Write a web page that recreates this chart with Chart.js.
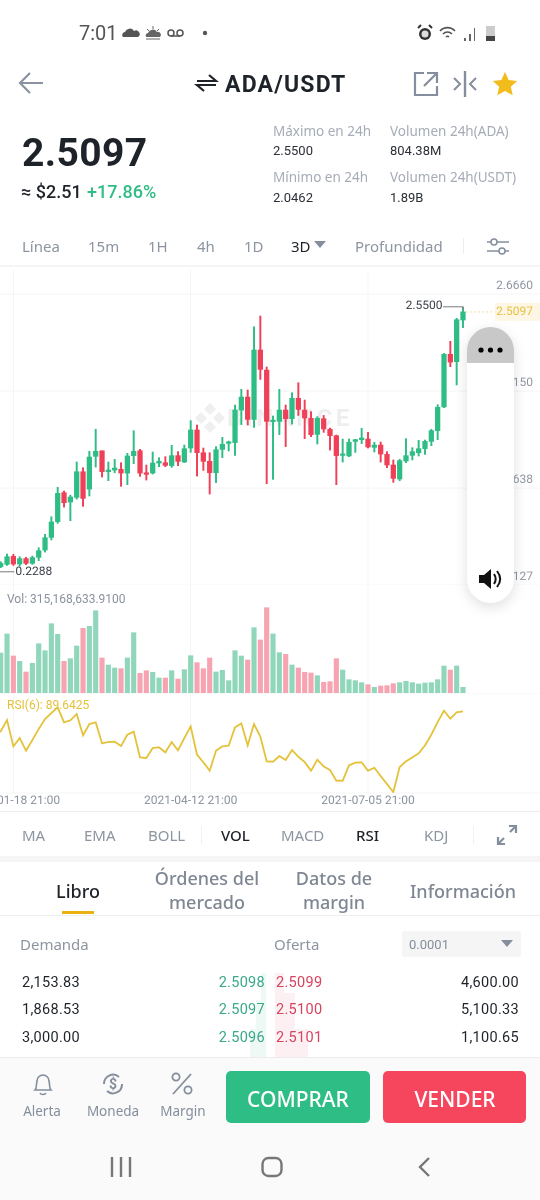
<!DOCTYPE html>
<html lang="es"><head><meta charset="utf-8">
<script src="https://cdn.jsdelivr.net/npm/chart.js@4"></script>
<style>
html,body{margin:0;padding:0;background:#fff;width:540px;height:1200px;overflow:hidden}
body{position:relative;font-family:"Noto Sans",Roboto,sans-serif;color:#848e9c}
.t{position:absolute;white-space:nowrap;transform:translateY(-50%);line-height:1}
.c{transform:translate(-50%,-50%)}
.r{transform:translate(-100%,-50%)}
.box{position:absolute}
svg{position:absolute;overflow:visible}
canvas{position:absolute;left:0;z-index:2}
canvas,.t,svg{filter:blur(.3px)}
.n{font-family:Roboto,sans-serif}
.tab{font-size:15px;color:#8d95a1}
.stat{font-size:13.5px;color:#a6acb6}
.val{font-size:13px;color:#2b2f36;font-family:Roboto,sans-serif}
.mt{font-size:18px;font-weight:500;color:#7f8793;text-align:center;line-height:24px}
.row{font-size:14.5px;font-family:Roboto,sans-serif;letter-spacing:.3px}
</style></head><body>
<script>
// index 0 is the candle just left of the visible window (it holds the 0.2288 low)
const dateTicks = ["2021-01-18 21:00","2021-04-12 21:00","2021-07-05 21:00"];
const dateTickIndex = [3,31,59];
const priceTicks = [2.6660,1.8150,0.9638,0.1127];
const lastPrice = 2.5097;
const highs = [.300,.318,.385,.382,.361,.356,.367,.440,.557,.712,.970,.938,.902,1.192,1.142,1.286,1.479,1.291,1.192,1.215,
1.186,1.268,1.467,1.303,1.166,1.280,1.230,1.239,1.338,1.283,1.341,1.555,1.517,1.315,1.274,1.327,1.408,1.376,1.692,1.830,
1.824,2.379,2.473,2.026,1.596,1.830,1.692,1.800,1.888,1.736,1.634,1.590,1.601,1.490,1.429,1.394,1.394,1.391,1.487,1.452,
1.365,1.368,1.283,1.210,1.215,1.397,1.318,1.382,1.385,1.479,1.695,2.145,2.251,2.453,2.5500];
const lows = [.2288,.265,.285,.285,.279,.291,.294,.326,.402,.508,.654,.797,.677,.867,.803,.894,1.148,1.060,1.028,1.098,
.979,.993,1.177,1.066,1.034,1.087,1.151,1.151,1.145,1.160,1.186,1.277,1.069,1.119,.911,1.011,1.230,1.289,1.250,1.520,
1.517,1.496,1.917,1.002,1.040,1.432,1.327,1.525,1.601,1.397,1.414,1.350,1.452,1.297,.993,1.192,1.239,1.277,1.353,1.315,
1.280,1.192,1.142,1.014,1.028,1.186,1.210,1.245,1.259,1.335,1.388,1.669,2.028,1.868,2.371];
const opens = [.285,.274,.294,.364,.297,.344,.303,.356,.420,.531,.668,.923,.841,.882,1.107,.955,1.242,1.291,1.107,1.122,
1.128,1.095,1.248,1.291,1.098,1.095,1.183,1.186,1.160,1.248,1.192,1.315,1.473,1.274,1.198,1.098,1.303,1.356,1.362,1.648,
1.762,1.566,2.175,1.999,1.546,1.549,1.648,1.572,1.751,1.648,1.575,1.435,1.572,1.479,1.423,1.250,1.245,1.373,1.388,1.394,
1.321,1.341,1.259,1.166,1.043,1.201,1.251,1.274,1.309,1.373,1.467,1.675,2.137,2.072,2.438];
const closes = [.270,.303,.361,.297,.344,.303,.353,.414,.528,.666,.917,.835,.885,1.107,.873,1.236,1.286,1.107,1.122,1.139,
1.095,1.245,1.286,1.095,1.084,1.183,1.198,1.163,1.248,1.198,1.309,1.473,1.274,1.198,1.098,1.300,1.347,1.367,1.648,1.762,
1.566,2.175,2.005,1.549,1.558,1.648,1.572,1.751,1.654,1.578,1.432,1.575,1.482,1.423,1.248,1.262,1.365,1.388,1.403,1.324,
1.341,1.262,1.166,1.049,1.204,1.248,1.283,1.309,1.373,1.467,1.672,2.137,2.069,2.441,2.5097];
// volume, millions of ADA
const volumes = [1900,2225,3282,2058,1761,1168,1650,2744,2355,3856,3263,1761,1910,2614,3597,3708,4579,1947,1557,1391,
1353,1947,3356,1094,1242,1149,834,834,1242,779,1298,2076,1687,1353,1947,1168,1261,686,2355,2058,
1835,3634,2948,4746,3282,2243,2151,1557,1391,1149,1112,964,593,630,1910,1279,742,686,575,464,
315,389,408,519,575,649,575,501,556,575,742,1502,1279,1502,315.17];
const rsi = [76.50,78.41,84.79,69.97,74.66,67.53,73.53,79.72,85.35,88.73,91.91,83.47,84.60,88.16,76.16,82.53,83.47,71.66,72.41,72.60,
70.16,76.53,78.22,63.78,63.41,69.03,69.41,66.59,72.41,67.72,74.66,81.22,65.28,60.97,56.27,67.53,69.97,70.34,80.66,82.91,
70.53,82.53,75.41,61.53,61.34,64.53,62.28,67.91,64.15,61.15,56.27,62.47,58.72,56.65,50.65,50.65,59.28,60.78,60.97,56.27,
57.96,53.27,48.77,44.27,58.34,61.53,63.78,66.03,70.53,76.53,83.66,90.04,85.54,89.10,89.6425];
</script>

<!-- status bar -->
<span class="t n" style="left:79px;top:33px;font-size:20px;color:#555">7:01</span>
<svg style="left:122px;top:26px" width="80" height="14" viewBox="0 0 80 14"><path d="M1 11a3 3 0 0 1 2-5 5 5 0 0 1 9-1 3.5 3.5 0 0 1 4 6z" fill="#555"/><path d="M24 11a3 3 0 0 1 2-4 5 5 0 0 1 9-1 3 3 0 0 1 3 5z" fill="#666"/><path d="M25 3l2 2M31 0v3M37 3l-2 2M24 13h14" stroke="#666" fill="none"/><g fill="none" stroke="#555" stroke-width="1.5"><circle cx="49" cy="7" r="3"/><circle cx="58" cy="7" r="3"/><path d="M49 10h9"/></g><circle cx="83" cy="7" r="2.2" fill="#555"/></svg>
<svg style="left:417px;top:24px" width="80" height="18" viewBox="0 0 80 18"><circle cx="8" cy="10" r="6" fill="#333"/><circle cx="8" cy="10" r="3.5" fill="#ddd"/><path d="M1 4l3-3M15 4l-3-3" stroke="#333" stroke-width="2"/><path d="M23 7a10 10 0 0 1 15 0M26 10a6 6 0 0 1 9 0M29 13a2 2 0 0 1 3 0" fill="none" stroke="#555" stroke-width="1.6"/><path d="M47 17v-3h2v3zM52 17v-7h2v7zM57 17V4h1v13z" fill="#666"/><rect x="69" y="2" width="9" height="15" fill="#ccc"/><rect x="69" y="12" width="9" height="5" fill="#444"/></svg>

<!-- header -->
<svg style="left:18px;top:72px" width="26" height="22" viewBox="0 0 26 22"><path d="M25 11H2M12 1L2 11l10 10" fill="none" stroke="#8b93a0" stroke-width="2.2"/></svg>
<svg style="left:196px;top:74px" width="21" height="18" viewBox="0 0 21 18"><path d="M1 7h19L13 1M20 11H1l7 6" fill="none" stroke="#1e2329" stroke-width="2.2"/></svg>
<span class="t" style="left:225px;top:84px;font-size:23px;font-weight:700;color:#1e2329;font-family:Roboto,sans-serif;letter-spacing:1.2px">ADA/USDT</span>
<svg style="left:413px;top:71px" width="26" height="26" viewBox="0 0 26 26"><path d="M11 2H2v22h22v-9M14 2h10v10M24 2L11 15" fill="none" stroke="#848e9c" stroke-width="2.2"/></svg>
<svg style="left:452px;top:71px" width="26" height="26" viewBox="0 0 26 26"><path d="M13 0v26" stroke="#848e9c" stroke-width="2.4"/><path d="M2 7l6 6-6 6M24 7l-6 6 6 6" fill="none" stroke="#848e9c" stroke-width="2"/></svg>
<svg style="left:492px;top:71px" width="26" height="26" viewBox="0 0 24 24"><path d="M12 1l3.4 7.3 7.9.9-5.9 5.3 1.7 7.9L12 18.4l-7.1 4 1.7-7.9L.7 9.2l7.9-.9z" fill="#f2bc1c"/></svg>

<span class="t" style="left:22px;top:153px;font-size:39px;font-weight:700;color:#1e2329;font-family:Roboto,sans-serif;letter-spacing:.4px">2.5097</span>
<span class="t" style="left:21px;top:192px;font-size:18px;font-weight:500;color:#1e2329;font-family:Roboto,sans-serif">≈ $2.51</span>
<span class="t" style="left:87px;top:192px;font-size:18px;font-weight:500;color:#2ebd85;font-family:Roboto,sans-serif">+17.86%</span>
<span class="t stat" style="left:273px;top:132px">Máximo en 24h</span><span class="t val" style="left:273px;top:150px">2.5500</span>
<span class="t stat" style="left:390px;top:132px">Volumen 24h(ADA)</span><span class="t val" style="left:390px;top:150px">804.38M</span>
<span class="t stat" style="left:273px;top:178px">Mínimo en 24h</span><span class="t val" style="left:273px;top:197px">2.0462</span>
<span class="t stat" style="left:390px;top:178px">Volumen 24h(USDT)</span><span class="t val" style="left:390px;top:197px">1.89B</span>

<span class="t tab" style="left:22px;top:246px">Línea</span>
<span class="t tab" style="left:88px;top:246px">15m</span>
<span class="t tab" style="left:148px;top:246px">1H</span>
<span class="t tab" style="left:197px;top:246px">4h</span>
<span class="t tab" style="left:244px;top:246px">1D</span>
<span class="t tab" style="left:291px;top:246px;color:#1e2329">3D</span>
<svg style="left:314px;top:241px" width="12" height="7"><path d="M0 0h12L6 7z" fill="#848e9c"/></svg>
<span class="t tab" style="left:355px;top:246px">Profundidad</span>
<div class="box" style="left:463px;top:238px;width:1px;height:16px;background:#eee"></div>
<svg style="left:487px;top:238px" width="22" height="17" viewBox="0 0 22 17"><path d="M0 4h22M0 13h22" stroke="#848e9c" stroke-width="1.5"/><circle cx="7" cy="4" r="3" fill="#fff" stroke="#848e9c" stroke-width="1.5"/><circle cx="15" cy="13" r="3" fill="#fff" stroke="#848e9c" stroke-width="1.5"/></svg>
<div class="box" style="left:0;top:265px;width:540px;height:2px;background:#f5f5f5"></div>

<!-- watermark behind the chart -->
<svg style="left:195px;top:403px;z-index:1" width="30" height="30" viewBox="0 0 30 30"><g fill="#efefef"><path d="M15 0l6 6-6 6-6-6zM6 9l6 6-6 6-6-6zM24 9l6 6-6 6-6-6zM15 18l6 6-6 6-6-6z"/></g></svg>
<span class="t" style="left:227px;top:418px;z-index:1;font-size:24px;font-weight:700;letter-spacing:3.4px;color:#eeeeee;font-family:Roboto,sans-serif">BINANCE</span>

<canvas id="priceChart" style="top:270px" width="540" height="315"></canvas>
<canvas id="volChart" style="top:585px" width="540" height="108"></canvas>
<canvas id="rsiChart" style="top:693px" width="540" height="118"></canvas>
<span class="t n" style="left:7px;top:599px;font-size:12px;color:#8a919e;z-index:3">Vol: 315,168,633.9100</span>
<span class="t n" style="left:7px;top:705px;font-size:12px;color:#e3c23a;z-index:3">RSI(6): 89.6425</span>

<!-- floating panel -->
<div class="box" style="left:467px;top:327px;width:47px;height:276px;border-radius:24px;background:#fff;box-shadow:0 4px 14px rgba(0,0,0,.13);z-index:4;overflow:hidden"><div style="height:36px;background:#c8c8c8"></div></div>
<svg style="left:478px;top:345px;z-index:5" width="26" height="10"><circle cx="3" cy="5" r="2.6"/><circle cx="12.5" cy="5" r="2.6"/><circle cx="22" cy="5" r="2.6"/></svg>
<svg style="left:478px;top:568px;z-index:5" width="25" height="22" viewBox="0 0 25 22"><path d="M1 7h5l7-6v20l-7-6H1z" fill="#111"/><path d="M16 6c2 3 2 7 0 10M19 3c4 5 4 11 0 16" fill="none" stroke="#111" stroke-width="2"/></svg>

<!-- indicator tabs -->
<div class="box" style="left:0;top:811px;width:540px;height:1px;background:#ececec"></div>
<span class="t tab" style="left:22px;top:835px">MA</span>
<span class="t tab" style="left:84px;top:835px">EMA</span>
<span class="t tab" style="left:148px;top:835px">BOLL</span>
<div class="box" style="left:201px;top:826px;width:1px;height:18px;background:#f1f1f1"></div>
<span class="t tab" style="left:221px;top:835px;color:#1e2329;font-weight:500">VOL</span>
<span class="t tab" style="left:281px;top:835px">MACD</span>
<span class="t tab" style="left:356px;top:835px;color:#1e2329;font-weight:500">RSI</span>
<span class="t tab" style="left:424px;top:835px">KDJ</span>
<div class="box" style="left:473px;top:826px;width:1px;height:18px;background:#f1f1f1"></div>
<svg style="left:497px;top:825px" width="20" height="20" viewBox="0 0 20 20"><path d="M12 1h7v7M19 1l-6 6M1 12v7h7M1 19l6-6" fill="none" stroke="#848e9c" stroke-width="2.2"/></svg>
<div class="box" style="left:0;top:856px;width:540px;height:6px;background:#f5f5f5"></div>

<!-- market tabs -->
<span class="t c" style="left:78px;top:891px;font-size:18px;font-weight:500;color:#1e2329">Libro</span>
<div class="box" style="left:62px;top:911px;width:32px;height:3px;background:#e9b210"></div>
<span class="t c mt" style="left:207px;top:890px">Órdenes del<br>mercado</span>
<span class="t c mt" style="left:334px;top:890px">Datos de<br>margin</span>
<span class="t c mt" style="left:463px;top:891px">Información</span>
<div class="box" style="left:0;top:915px;width:540px;height:1px;background:#eee"></div>

<span class="t" style="left:20px;top:944px;font-size:15px;color:#8d95a1">Demanda</span>
<span class="t" style="left:274px;top:944px;font-size:15px;color:#8d95a1">Oferta</span>
<div class="box" style="left:402px;top:931px;width:119px;height:26px;background:#f5f5f5;border-radius:3px"></div>
<span class="t n" style="left:409px;top:944px;font-size:13px;color:#848e9c">0.0001</span>
<svg style="left:501px;top:940px" width="12" height="7"><path d="M0 0h12L6 7z" fill="#848e9c"/></svg>

<div class="box" style="left:261px;top:973px;width:5px;height:28px;background:#eef9f5"></div>
<div class="box" style="left:256px;top:1001px;width:10px;height:28px;background:#eef9f5"></div>
<div class="box" style="left:250px;top:1029px;width:16px;height:28px;background:#eef9f5"></div>
<div class="box" style="left:275px;top:973px;width:9px;height:20px;background:#fdf0f2"></div>
<div class="box" style="left:275px;top:993px;width:20px;height:36px;background:#fdf0f2"></div>
<div class="box" style="left:275px;top:1029px;width:33px;height:28px;background:#fdf0f2"></div>

<span class="t row" style="left:22px;top:983px;color:#1e2329">2,153.83</span>
<span class="t row r" style="left:265px;top:983px;color:#3aa98a">2.5098</span>
<span class="t row" style="left:276px;top:983px;color:#d6445e">2.5099</span>
<span class="t row r" style="left:519px;top:983px;color:#1e2329">4,600.00</span>
<span class="t row" style="left:22px;top:1010px;color:#1e2329">1,868.53</span>
<span class="t row r" style="left:265px;top:1010px;color:#3aa98a">2.5097</span>
<span class="t row" style="left:276px;top:1010px;color:#d6445e">2.5100</span>
<span class="t row r" style="left:519px;top:1010px;color:#1e2329">5,100.33</span>
<span class="t row" style="left:22px;top:1038px;color:#1e2329">3,000.00</span>
<span class="t row r" style="left:265px;top:1038px;color:#3aa98a">2.5096</span>
<span class="t row" style="left:276px;top:1038px;color:#d6445e">2.5101</span>
<span class="t row r" style="left:519px;top:1038px;color:#1e2329">1,100.65</span>

<!-- bottom bar -->
<div class="box" style="left:0;top:1057px;width:540px;height:143px;background:#fafafa;border-top:1px solid #ececec;box-sizing:border-box"></div>
<svg style="left:33px;top:1074px" width="20" height="22" viewBox="0 0 20 22"><path d="M2 16c2-2 1-5 2-9a6 6 0 0 1 12 0c1 4 0 7 2 9zM7 19c1 2 5 2 6 0" fill="none" stroke="#848e9c" stroke-width="1.6"/></svg>
<svg style="left:101px;top:1072px" width="24" height="24" viewBox="0 0 24 24"><path d="M3 12a9 9 0 0 1 15-7M21 12a9 9 0 0 1-15 7" fill="none" stroke="#848e9c" stroke-width="2"/><text x="12" y="17" text-anchor="middle" font-size="14" font-weight="700" fill="#848e9c" font-family="Roboto">$</text></svg>
<svg style="left:171px;top:1072px" width="22" height="24" viewBox="0 0 22 24"><circle cx="5" cy="5" r="3.6" fill="none" stroke="#848e9c" stroke-width="1.8"/><circle cx="17" cy="18" r="3.6" fill="none" stroke="#848e9c" stroke-width="1.8"/><path d="M20 2L2 22" stroke="#848e9c" stroke-width="1.8"/></svg>
<span class="t c" style="left:42px;top:1112px;font-size:13.5px">Alerta</span>
<span class="t c" style="left:113px;top:1112px;font-size:13.5px">Moneda</span>
<span class="t c" style="left:183px;top:1112px;font-size:13.5px">Margin</span>
<div class="box" style="left:226px;top:1071px;width:144px;height:52px;background:#2ebd85;border-radius:5px"></div>
<div class="box" style="left:383px;top:1071px;width:143px;height:52px;background:#f6465d;border-radius:5px"></div>
<span class="t c" style="left:298px;top:1099px;font-size:21px;font-weight:500;color:#fff">COMPRAR</span>
<span class="t c" style="left:455px;top:1099px;font-size:21px;font-weight:500;color:#fff">VENDER</span>
<svg style="left:110px;top:1157px" width="22" height="20"><path d="M2 0v20M11 0v20M20 0v20" stroke="#777" stroke-width="2.4"/></svg>
<svg style="left:261px;top:1157px" width="22" height="20"><rect x="1.5" y="1" width="19" height="18" rx="6" fill="none" stroke="#777" stroke-width="2.4"/></svg>
<svg style="left:418px;top:1157px" width="12" height="20"><path d="M11 1L2 10l9 9" fill="none" stroke="#777" stroke-width="2.4"/></svg>

<script>
const GREEN = '#2ebd85', RED = '#ef4058', GREEN_V = '#90d6bb', RED_V = '#f6a4b2', GRID = '#f5f5f5', YEL = '#e3c23a';
const isUp = closes.map((c, i) => c >= opens[i]);
const xs = closes.map((_, i) => i);
const xRange = {min: 0.889, max: 86.16};

function xScale(withLabels) {
  return {
    type: 'linear', ...xRange, offset: false,
    grid: {color: GRID, lineWidth: 1, offset: false, drawTicks: false},
    border: {display: false},
    afterBuildTicks: s => { s.ticks = dateTickIndex.map(v => ({value: v})); },
    afterFit: s => { s.paddingLeft = 0; s.paddingRight = 0; s.height = withLabels ? 18 : 0; },
    ticks: {
      display: withLabels, autoSkip: false, maxRotation: 0, minRotation: 0, padding: 1,
      color: '#8a919e', font: {family: 'Roboto', size: 12},
      callback: (v, i) => dateTicks[i]
    }
  };
}
const common = {
  responsive: false, animation: false, devicePixelRatio: 2,
  layout: {padding: 0},
  plugins: {legend: {display: false}, tooltip: {enabled: false}}
};

const extremes = {
  id: 'extremes',
  afterDatasetsDraw(chart) {
    const {ctx, scales: {x, y}} = chart;
    const hi = highs.indexOf(Math.max(...highs)), lo = lows.indexOf(Math.min(...lows));
    const hx = x.getPixelForValue(hi), hy = y.getPixelForValue(highs[hi]);
    const lx = x.getPixelForValue(lo), ly = y.getPixelForValue(lows[lo]);
    const py = y.getPixelForValue(lastPrice), px = x.getPixelForValue(xs.length - 1);
    ctx.save();
    ctx.font = '12px Roboto'; ctx.textBaseline = 'middle';
    ctx.strokeStyle = '#7d7d7d'; ctx.lineWidth = 1;
    ctx.beginPath(); ctx.moveTo(hx, hy + 3); ctx.lineTo(hx, hy - 0.5); ctx.lineTo(hx - 20, hy - 0.5); ctx.stroke();
    ctx.fillStyle = '#3a3f47'; ctx.textAlign = 'right'; ctx.fillText(highs[hi].toFixed(4), hx - 20.5, hy - 1);
    ctx.beginPath(); ctx.moveTo(lx, ly); ctx.lineTo(lx + 20, ly); ctx.stroke();
    ctx.textAlign = 'left'; ctx.fillText(lows[lo].toFixed(4), lx + 21, ly);
    ctx.strokeStyle = '#f2dfa6'; ctx.setLineDash([2, 2]);
    ctx.beginPath(); ctx.moveTo(px + 3, py); ctx.lineTo(495, py); ctx.stroke(); ctx.setLineDash([]);
    ctx.fillStyle = '#fdf6e4'; ctx.fillRect(495, py - 9, 45, 18);
    ctx.fillStyle = '#e6c140'; ctx.textAlign = 'right'; ctx.fillText(lastPrice.toFixed(4), 533, py);
    ctx.restore();
  }
};

new Chart(document.getElementById('priceChart'), {
  type: 'bar',
  data: {datasets: [
    {data: xs.map(i => ({x: i, y: [lows[i], highs[i]]})), backgroundColor: isUp.map(u => u ? GREEN : RED), barThickness: 1.3, grouped: false},
    {data: xs.map(i => ({x: i, y: [opens[i], closes[i]]})), backgroundColor: isUp.map(u => u ? GREEN : RED), barThickness: 4.6, minBarLength: 1.5, grouped: false}
  ]},
  options: {...common, scales: {
    x: xScale(false),
    y: {
      position: 'right', min: priceTicks[3], max: 2.8766,
      grid: {color: GRID, drawTicks: false}, border: {display: false},
      afterBuildTicks: s => { s.ticks = priceTicks.map(v => ({value: v})); },
      afterFit: s => { s.width = 0; s.paddingTop = 0; s.paddingBottom = 0; },
      ticks: {mirror: true, padding: -7, labelOffset: -8, color: '#8f96a1', font: {family: 'Roboto', size: 12}, callback: v => v.toFixed(4)}
    }
  }},
  plugins: [extremes]
});

new Chart(document.getElementById('volChart'), {
  type: 'bar',
  data: {datasets: [{data: xs.map(i => ({x: i, y: volumes[i]})), backgroundColor: isUp.map(u => u ? GREEN_V : RED_V), barThickness: 4.5, grouped: false}]},
  options: {...common, scales: {
    x: xScale(false),
    y: {min: 0, max: 6007, display: false}
  }}
});

new Chart(document.getElementById('rsiChart'), {
  type: 'line',
  data: {datasets: [{data: xs.map(i => ({x: i, y: rsi[i]})), borderColor: YEL, borderWidth: 1.8, pointRadius: 0, tension: 0}]},
  options: {...common, scales: {
    x: xScale(true),
    y: {min: 43.73, max: 100, position: 'right',
      grid: {color: GRID, drawTicks: false}, border: {display: false},
      afterBuildTicks: s => { s.ticks = [{value: 100}, {value: 43.73}]; },
      afterFit: s => { s.width = 0; s.paddingTop = 0; s.paddingBottom = 0; },
      ticks: {display: false}}
  }}
});
</script>
</body></html>
